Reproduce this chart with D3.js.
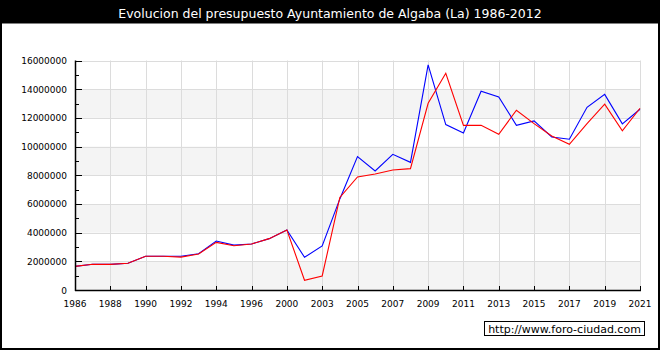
<!DOCTYPE html>
<html>
<head>
<meta charset="utf-8">
<script src="https://cdn.jsdelivr.net/npm/d3@7"></script>
<style>
  body { margin: 0; background: #fff; }
  svg { display: block; }
</style>
</head>
<body>
<div id="chart"></div>
<script>
// years shown on the category axis (one point per budget)
var years = [1986, 1987, 1988, 1989, 1990, 1991, 1992, 1993, 1994, 1995, 1996,
             1999, 2000, 2002, 2003, 2004, 2005, 2006, 2007, 2008, 2009, 2010,
             2011, 2012, 2013, 2014, 2015, 2016, 2017, 2018, 2019, 2020, 2021];
// blue series
var ingresos = [1650000, 1790000, 1790000, 1870000, 2350000, 2350000, 2350000, 2530000, 3410000, 3130000, 3210000,
                3580000, 4180000, 2280000, 3070000, 6350000, 9300000, 8300000, 9460000, 8900000, 15690000, 11530000,
                10950000, 13860000, 13460000, 11480000, 11790000, 10670000, 10510000, 12740000, 13640000, 11580000, 12600000];
// red series
var gastos = [1650000, 1790000, 1790000, 1870000, 2350000, 2350000, 2290000, 2510000, 3320000, 3090000, 3210000,
              3580000, 4180000, 680000, 980000, 6450000, 7880000, 8090000, 8370000, 8460000, 13020000, 15110000,
              11480000, 11480000, 10860000, 12530000, 11600000, 10740000, 10160000, 11600000, 12950000, 11090000, 12670000];
var yTicks = [0, 2000000, 4000000, 6000000, 8000000, 10000000, 12000000, 14000000, 16000000];

var W = 660, H = 350;
var margin = { top: 60.5, right: 20, bottom: 60, left: 75 };

var svg = d3.select("#chart").append("svg")
    .attr("width", W).attr("height", H);

svg.append("rect").attr("width", W).attr("height", H).attr("fill", "#fff");

// title bar
svg.append("rect").attr("x", 0).attr("y", 0).attr("width", W).attr("height", 23.5).attr("fill", "#000");
svg.append("text")
    .attr("x", W/2).attr("y", 17.5)
    .attr("text-anchor", "middle")
    .attr("fill", "#fff")
    .style("font-family", "DejaVu Sans, Verdana, sans-serif")
    .style("font-size", "12.5px")
    .text("Evolucion del presupuesto Ayuntamiento de Algaba (La) 1986-2012");

var xScale = d3.scaleLinear().domain([0, years.length - 1]).range([margin.left, W - margin.right]);
var yScale = d3.scaleLinear().domain([0, 16000000]).range([H - margin.bottom, margin.top]);

var x0 = xScale.range()[0], x1 = xScale.range()[1];
var y0 = yScale.range()[0], y1 = yScale.range()[1];

// alternating bands
var g = svg.append("g");
for (var i = 0; i < yTicks.length - 1; i++) {
  if (i % 2 == 0) {
    g.append("rect")
        .attr("x", x0).attr("width", x1 - x0)
        .attr("y", yScale(yTicks[i+1])).attr("height", yScale(yTicks[i]) - yScale(yTicks[i+1]))
        .attr("fill", "#f4f4f4");
  }
}

var labelIdx = d3.range(0, years.length, 2);

// grid
g.selectAll(".hgrid").data(yTicks.slice(1)).enter().append("line")
    .attr("x1", x0).attr("x2", x1)
    .attr("y1", function(d) { return Math.round(yScale(d)) + 0.5; })
    .attr("y2", function(d) { return Math.round(yScale(d)) + 0.5; })
    .attr("stroke", "#dcdcdc").attr("stroke-width", 1);
g.selectAll(".vgrid").data(labelIdx.slice(1)).enter().append("line")
    .attr("x1", function(d) { return Math.round(xScale(d)) + 0.5; })
    .attr("x2", function(d) { return Math.round(xScale(d)) + 0.5; })
    .attr("y1", y1).attr("y2", y0)
    .attr("stroke", "#dcdcdc").attr("stroke-width", 1);

// lines
function drawLine(values, colour) {
  svg.append("path")
      .datum(values)
      .attr("fill", "none")
      .attr("stroke", colour)
      .attr("stroke-width", 1.1)
      .attr("d", d3.line()
          .x(function(d, i) { return xScale(i); })
          .y(function(d) { return yScale(d); }));
}
drawLine(ingresos, "#0000ff");
drawLine(gastos, "#ff0000");

// y axis: major ticks inward, minor ticks at odd millions
var yAxis = d3.axisRight(yScale).tickValues(yTicks).tickSize(6).tickFormat("");
svg.append("g").attr("transform", "translate(" + (x0 + 0.5) + ",0)").call(yAxis)
    .call(function(a) { a.select(".domain").remove(); });
var yMinor = d3.axisRight(yScale).tickValues(d3.range(1000000, 16000000, 2000000)).tickSize(3).tickFormat("");
svg.append("g").attr("transform", "translate(" + (x0 + 0.5) + ",0)").call(yMinor)
    .call(function(a) { a.select(".domain").remove(); });

svg.selectAll(".yl").data(yTicks).enter().append("text")
    .attr("x", 67).attr("y", function(d) { return yScale(d) + 3.5; })
    .attr("text-anchor", "end")
    .style("font-family", "DejaVu Sans, Verdana, sans-serif")
    .style("font-size", "9px")
    .attr("fill", "#000")
    .text(function(d) { return d; });

// x axis ticks pointing up
var xAxis = d3.axisTop(xScale).tickValues(labelIdx).tickSize(5).tickFormat("");
svg.append("g").attr("transform", "translate(0," + (y0 + 0.5) + ")").call(xAxis)
    .call(function(a) { a.select(".domain").remove(); });

svg.selectAll(".xl").data(labelIdx).enter().append("text")
    .attr("x", function(d) { return xScale(d); })
    .attr("y", 307)
    .attr("text-anchor", "middle")
    .style("font-family", "DejaVu Sans, Verdana, sans-serif")
    .style("font-size", "9px")
    .attr("fill", "#000")
    .text(function(d) { return years[d]; });

svg.selectAll(".tick line").attr("stroke", "#000").attr("shape-rendering", "crispEdges");

// axis lines
svg.append("line").attr("x1", x0 + 0.5).attr("x2", x0 + 0.5).attr("y1", y1).attr("y2", y0 + 1)
    .attr("stroke", "#000").attr("stroke-width", 1.5);
svg.append("line").attr("x1", x0).attr("x2", x1 + 1).attr("y1", y0 + 0.5).attr("y2", y0 + 0.5)
    .attr("stroke", "#000").attr("stroke-width", 1.5);

// watermark
svg.append("rect").attr("x", 484.5).attr("y", 321.5).attr("width", 160).attr("height", 14)
    .attr("fill", "#fff").attr("stroke", "#000").attr("stroke-width", 1);
svg.append("text")
    .attr("x", 564.5).attr("y", 332.5)
    .attr("text-anchor", "middle")
    .style("font-family", "DejaVu Sans, Verdana, sans-serif")
    .style("font-size", "11px")
    .attr("fill", "#000")
    .text("http://www.foro-ciudad.com");

// outer frame
svg.append("rect").attr("x", 1).attr("y", 1).attr("width", W - 2).attr("height", H - 2)
    .attr("fill", "none").attr("stroke", "#000").attr("stroke-width", 2);
</script>
</body>
</html>
